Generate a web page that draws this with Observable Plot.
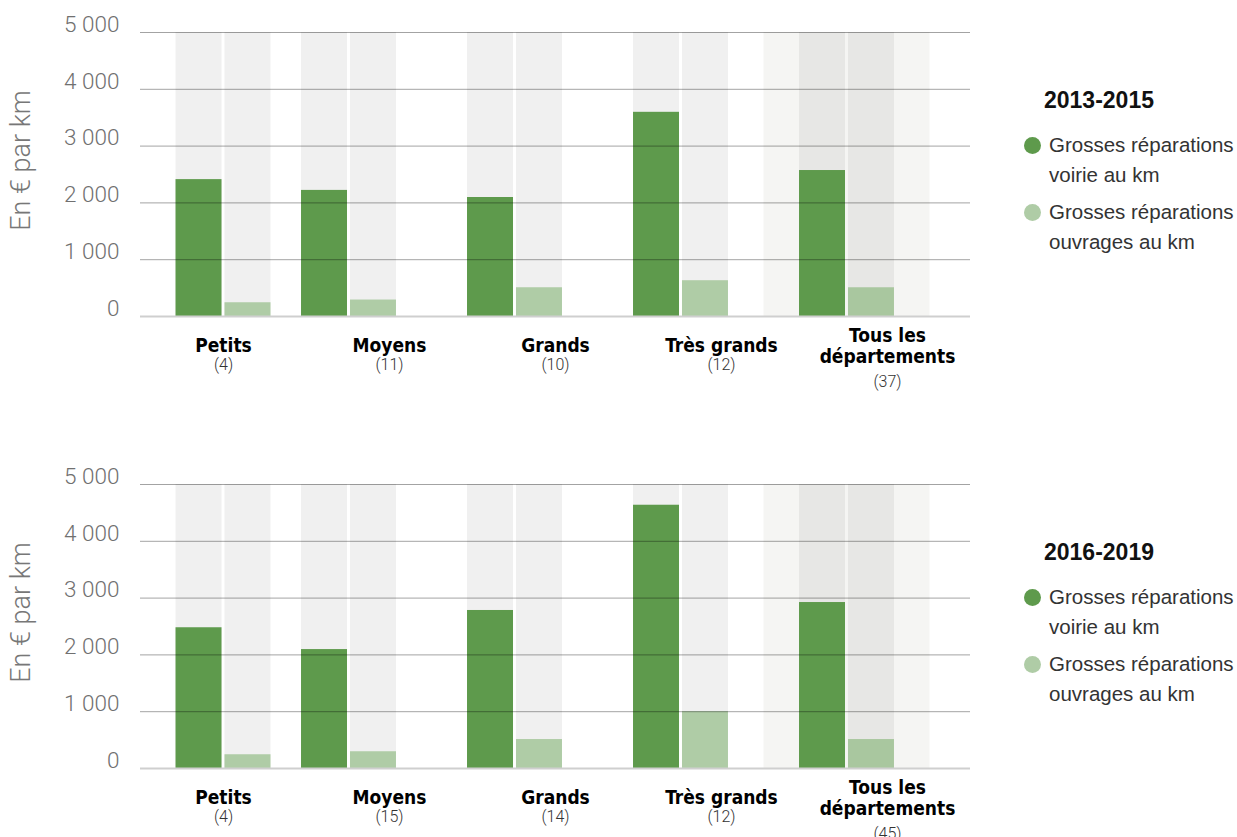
<!DOCTYPE html>
<html><head><meta charset="utf-8">
<script src="https://cdn.jsdelivr.net/npm/d3@7"></script>
<script src="https://cdn.jsdelivr.net/npm/@observablehq/plot@0.6"></script>
<style>
body{margin:0;background:#fff;overflow:hidden;font-family:"Liberation Sans",Arial,sans-serif}
.row{position:relative;width:1237px;height:452px}
.row svg{position:absolute;left:0;top:0}
.legend{position:absolute;left:1024px;top:86px;color:#333}
.lt{font-weight:bold;font-size:23px;line-height:28px;margin-left:20px;color:#111;margin-bottom:16px}
.li{display:flex;align-items:flex-start;font-size:20.5px;line-height:30px;margin-bottom:7px;white-space:pre-line}
.dot{width:17px;height:17px;border-radius:50%;margin-top:7px;margin-right:8px;flex:none}
</style></head><body><div id="charts"></div>
<script>
const categories = ["Petits", "Moyens", "Grands", "Très grands", "Tous les\ndépartements"];
const periods = ["2013-2015", "2016-2019"];
const counts2013 = [4, 11, 10, 12, 37];
const voirie2013 = [2410, 2220, 2095, 3595, 2570];
const ouvrages2013 = [242, 290, 506, 630, 506];
const counts2016 = [4, 15, 14, 12, 45];
const voirie2016 = [2478, 2094, 2782, 4635, 2922];
const ouvrages2016 = [242, 295, 510, 1000, 510];
const yTicks = [0, 1000, 2000, 3000, 4000, 5000];
const seriesNames = ["Grosses réparations\nvoirie au km", "Grosses réparations\nouvrages au km"];
const seriesColors = ["#5e9a4c", "#afcca6"];
const yLabel = "En € par km";

const fmt = d3.formatLocale({decimal: ",", thousands: "\u00a0", grouping: [3], currency: ["", " €"]}).format(",");

function chart(voirie, ouvrages, counts) {
  // layout (scale units): bar pair offset from the category label
  const shift = i => i === 0 ? 0 : -0.244;
  const barW = 0.277, gap = 0.009;
  const rows = categories.map((cat, i) => ({cat, i, n: `(${counts[i]})`, multi: cat.includes("\n"), c: i + shift(i), v: voirie[i], o: ouvrages[i]}));
  const bars = rows.flatMap(d => [
    {series: "voirie", value: d.v, x1: d.c - gap - barW, x2: d.c - gap, all: d.multi},
    {series: "ouvrages", value: d.o, x1: d.c + gap, x2: d.c + gap + barW, all: d.multi}
  ]);
  const nameFont = '"Liberation Sans Narrow","DejaVu Sans Condensed","Roboto Condensed",sans-serif';
  const lightFont = "Roboto, sans-serif";
  return Plot.plot({
    width: 990, height: 452,
    marginLeft: 140, marginRight: 20, marginTop: 32, marginBottom: 136,
    x: {domain: [-0.5, 4.5], axis: null},
    y: {domain: [0, 5000], axis: null},
    marks: [
      Plot.rectY(rows.filter(d => d.multi), {x1: d => d.c - 0.5, x2: d => d.c + 0.5, y1: 0, y2: 5000, fill: "#f5f5f3"}),
      Plot.rectY(bars.filter(d => !d.all), {x1: "x1", x2: "x2", y1: 0, y2: 5000, fill: "#f0f0f0"}),
      Plot.rectY(bars.filter(d => d.all), {x1: "x1", x2: "x2", y1: 0, y2: 5000, fill: "#e7e7e5"}),
      Plot.rectY(bars.filter(d => d.series === "voirie"), {x1: "x1", x2: "x2", y1: 0, y2: "value", fill: seriesColors[0]}),
      Plot.rectY(bars.filter(d => d.series === "ouvrages" && !d.all), {x1: "x1", x2: "x2", y1: 0, y2: "value", fill: seriesColors[1]}),
      Plot.rectY(bars.filter(d => d.series === "ouvrages" && d.all), {x1: "x1", x2: "x2", y1: 0, y2: "value", fill: "#a9c79f"}),
      Plot.ruleY(yTicks.filter(t => t > 0), {stroke: "#000", strokeOpacity: 0.36}),
      Plot.ruleY([0], {stroke: "#cfcfcf", strokeWidth: 2}),
      Plot.text(yTicks, {y: d => d, text: d => fmt(d), frameAnchor: "left", textAnchor: "end", dx: -21, dy: -8, fontSize: 22.5, fill: "#707070", fontFamily: lightFont, fontWeight: 300}),
      Plot.text([yLabel], {text: d => d, frameAnchor: "left", textAnchor: "middle", rotate: -90, dx: -119, dy: -14, fontSize: 27, fill: "#777", fontFamily: lightFont, fontWeight: 300}),
      Plot.text(rows, {x: "i", y: 0, text: "cat", dy: 29, lineAnchor: "middle", lineHeight: 1.12, fontSize: 19, fontWeight: "bold", fill: "#000", fontFamily: nameFont}),
      Plot.text(rows.filter(d => !d.multi), {x: "i", y: 0, text: "n", dy: 48, lineAnchor: "middle", fontSize: 16, fill: "#333", fontFamily: lightFont, fontWeight: 300}),
      Plot.text(rows.filter(d => d.multi), {x: "i", y: 0, text: "n", dy: 65, lineAnchor: "middle", fontSize: 16, fill: "#333", fontFamily: lightFont, fontWeight: 300})
    ]
  });
}

function legend(title) {
  const div = document.createElement("div");
  div.className = "legend";
  const t = document.createElement("div");
  t.className = "lt"; t.textContent = title;
  div.appendChild(t);
  seriesNames.forEach((name, k) => {
    const li = document.createElement("div");
    li.className = "li";
    const dot = document.createElement("span");
    dot.className = "dot"; dot.style.background = seriesColors[k];
    const tx = document.createElement("span");
    tx.textContent = name;
    li.appendChild(dot); li.appendChild(tx);
    div.appendChild(li);
  });
  return div;
}

const root = document.getElementById("charts");
[[voirie2013, ouvrages2013, counts2013, periods[0]], [voirie2016, ouvrages2016, counts2016, periods[1]]].forEach(([v, o, n, p]) => {
  const row = document.createElement("div");
  row.className = "row";
  row.appendChild(chart(v, o, n));
  row.appendChild(legend(p));
  root.appendChild(row);
});
</script></body></html>
